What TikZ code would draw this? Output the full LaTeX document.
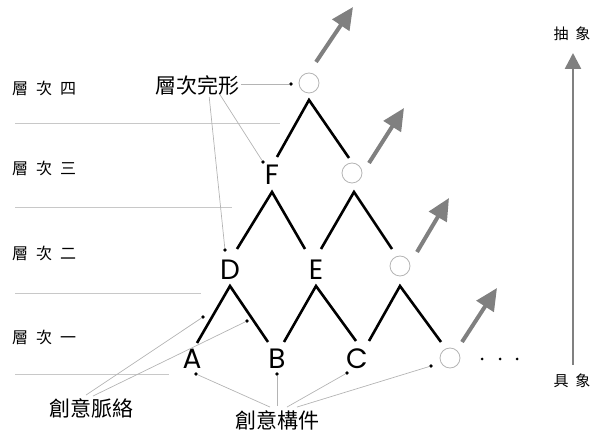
\documentclass[tikz,border=0pt]{standalone}
\usepackage{fontspec}
\newfontfamily\cjk{Noto Sans CJK TC}
\newfontfamily\latf{Poppins}
\usetikzlibrary{arrows.meta,calc}
\definecolor{arrgray}{HTML}{808080}
\definecolor{leadgray}{HTML}{B4B4B4}
\definecolor{rulegray}{HTML}{C8C8C8}
\begin{document}
\begin{tikzpicture}[x=1pt,y=-1pt,
  letter/.style={font=\latf\fontsize{28}{28}\selectfont, inner sep=0pt},
  hole/.style={circle, draw=leadgray, line width=0.8pt, minimum size=20pt, inner sep=0pt},
  tree/.style={line width=2.6pt, black},
  up/.style={arrgray, line width=4pt, -{Triangle[length=22pt,width=20pt]}},
  lead/.style={leadgray, line width=0.7pt},
  dotm/.style={circle, fill=black, minimum size=3.6pt, inner sep=0pt},
  level/.style={font=\cjk\fontsize{16}{16}\selectfont, anchor=west, inner sep=0pt},
  caplabel/.style={font=\cjk\fontsize{21}{21}\selectfont, inner sep=0pt},
  rule/.style={rulegray, line width=0.7pt}]
\useasboundingbox (0,0) rectangle (595,438);

% level labels and rules
\node[level] (l4) at (12,88) {層\hspace{8pt}次\hspace{8pt}四};
\node[level] (l3) at (12,168) {層\hspace{8pt}次\hspace{8pt}三};
\node[level] (l2) at (12,253) {層\hspace{8pt}次\hspace{8pt}二};
\node[level] (l1) at (12,337) {層\hspace{8pt}次\hspace{8pt}一};
\draw[rule] (15,123) -- (280,123);
\draw[rule] (15,207) -- (232,207);
\draw[rule] (15,293) -- (201,293);
\draw[rule] (15,374) -- (169,374);

% nodes
\node[hole] (n4) at (309,83) {};
\node[letter] (F) at (272,175) {F};
\node[hole] (n3) at (352,173) {};
\node[letter] (D) at (230,270) {D};
\node[letter] (E) at (316,270) {E};
\node[hole] (n2) at (400,266) {};
\node[letter] (A) at (192,359) {A};
\node[letter] (B) at (277,359) {B};
\node[letter] (C) at (357,359) {C};
\node[hole] (n1) at (450,358) {};
\node[dotm, minimum size=3pt] (e1) at (482,359) {};
\node[dotm, minimum size=3pt] (e2) at (500,359) {};
\node[dotm, minimum size=3pt] (e3) at (517,359) {};

% tree lines
\draw[tree] ($(n4)+(-32,74)$) -- ($(n4)+(0,17)$) -- ($(n4)+(40,75)$);
\draw[tree] ($(F)+(-35,74)$) -- ($(F)+(0,17)$) -- ($(F)+(33,74)$);
\draw[tree] ($(n3)+(-31,76)$) -- ($(n3)+(2,19)$) -- ($(n3)+(40,76)$);
\draw[tree] ($(D)+(-33,73)$) -- ($(D)+(0,16)$) -- ($(D)+(38,72)$);
\draw[tree] ($(E)+(-32,72)$) -- ($(E)+(0,16)$) -- ($(E)+(40,71)$);
\draw[tree] ($(n2)+(-31,75)$) -- ($(n2)+(0,20)$) -- ($(n2)+(41,76)$);

% gray arrows
\draw[up] ($(n4)+(7,-21)$) -- ($(n4)+(44,-76)$);
\draw[up] ($(n3)+(17,-10)$) -- ($(n3)+(52,-65)$);
\draw[up] ($(n2)+(17,-14)$) -- ($(n2)+(49,-68)$);
\draw[up] ($(n1)+(12,-16)$) -- ($(n1)+(47,-70)$);

% axis
\node[font=\cjk\fontsize{15}{15}\selectfont, inner sep=0pt] (abs) at (572,34) {抽\hspace{7pt}象};
\node[font=\cjk\fontsize{15}{15}\selectfont, inner sep=0pt] (con) at (572,381) {具\hspace{7pt}象};
\draw[arrgray, line width=2.6pt, -{Triangle[length=16pt,width=16pt]}] (573,365) -- (573,53);

% caption labels
\node[caplabel] (wh) at (197,85) {層次完形};
\node[caplabel] (ctx) at (91,408) {創意脈絡};
\node[caplabel] (cmp) at (277,420) {創意構件};

% leader dots
\node[dotm] (p4) at (291,84) {};
\node[dotm] (pF) at (263,162) {};
\node[dotm] (pD) at (225,250) {};
\node[dotm] (c1) at (203,317) {};
\node[dotm] (c2) at (247,321) {};
\node[dotm] (pA) at (196,374) {};
\node[dotm] (pB) at (277,374) {};
\node[dotm] (pC) at (347,373) {};
\node[dotm] (pN) at (431,366) {};

% leaders
\draw[lead] ($(wh.east)+(2,-1)$) -- (p4);
\draw[lead] ($(wh.south east)+(-19,0)$) -- (pF);
\draw[lead] ($(wh.south east)+(-30,2)$) -- (pD);
\draw[lead] ($(ctx.north)+(-5,-3)$) -- (c1);
\draw[lead] ($(ctx.north)+(2,-2)$) -- (c2);
\draw[lead] ($(cmp.north)+(-7,-3)$) -- (pA);
\draw[lead] ($(cmp.north)+(0,-4)$) -- (pB);
\draw[lead] ($(cmp.north)+(10,-3)$) -- (pC);
\draw[lead] ($(cmp.north)+(20,-3)$) -- (pN);
\end{tikzpicture}
\end{document}
